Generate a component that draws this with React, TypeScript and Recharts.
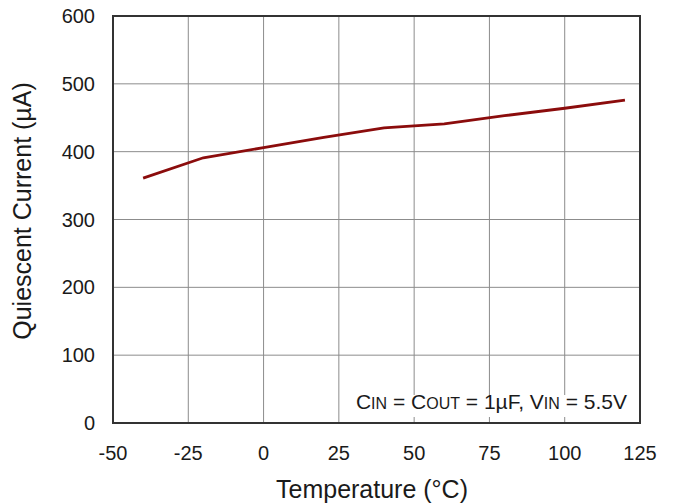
import { LineChart, Line, XAxis, YAxis, CartesianGrid, ReferenceArea, Customized } from 'recharts';

const temps = [-40, -20, 0, 20, 40, 60, 80, 100, 120];
const currents = [361, 391, 406, 421, 435, 441, 453, 464, 476];
const xTicks = [-50, -25, 0, 25, 50, 75, 100, 125];
const yTicks = [0, 100, 200, 300, 400, 500, 600];

const data = temps.map((t, i) => ({ temp: t, iq: currents[i] }));

const font = '"Liberation Sans", Arial, sans-serif';
const ink = '#1a1a1a';

// note in the lower right corner plus the two axis titles
const Texts = () => (
  <g fontFamily={font} fill={ink}>
    <rect x={352} y={395} width={278} height={22} fill="#fff" />
    <text x={627} y={409} textAnchor="end" fontSize={21}>
      <tspan>C</tspan>
      <tspan fontSize={16}>IN</tspan>
      <tspan> = C</tspan>
      <tspan fontSize={16}>OUT</tspan>
      <tspan> = 1µF, V</tspan>
      <tspan fontSize={16}>IN</tspan>
      <tspan> = 5.5V</tspan>
    </text>
    <text x={372} y={498} textAnchor="middle" fontSize={25}>
      Temperature (°C)
    </text>
    <text x={31} y={211} textAnchor="middle" fontSize={25} transform="rotate(-90 31 211)">
      Quiescent Current (µA)
    </text>
  </g>
);

export default function App() {
  return (
    <div style={{ position: 'absolute', left: 0, top: 0, background: '#fff' }}>
      <LineChart
        width={676}
        height={504}
        data={data}
        margin={{ top: 16, right: 36, bottom: 21, left: 53 }}
      >
        <CartesianGrid stroke="#8c8c8c" strokeWidth={1} />
        <XAxis
          dataKey="temp"
          type="number"
          domain={[-50, 125]}
          ticks={xTicks}
          height={60}
          tickSize={0}
          tickMargin={23}
          axisLine={false}
          tick={{ fill: ink, fontSize: 20, fontFamily: font }}
        />
        <YAxis
          type="number"
          domain={[0, 600]}
          ticks={yTicks}
          width={60}
          tickSize={0}
          tickMargin={18}
          axisLine={false}
          tick={{ fill: ink, fontSize: 20, fontFamily: font }}
        />
        <Line
          dataKey="iq"
          stroke="#8b0c0c"
          strokeWidth={2.8}
          dot={false}
          isAnimationActive={false}
        />
        <Customized component={Texts} />
        <ReferenceArea x1={-50} x2={125} y1={0} y2={600} fill="none" stroke="#333" strokeWidth={2} />
      </LineChart>
    </div>
  );
}
